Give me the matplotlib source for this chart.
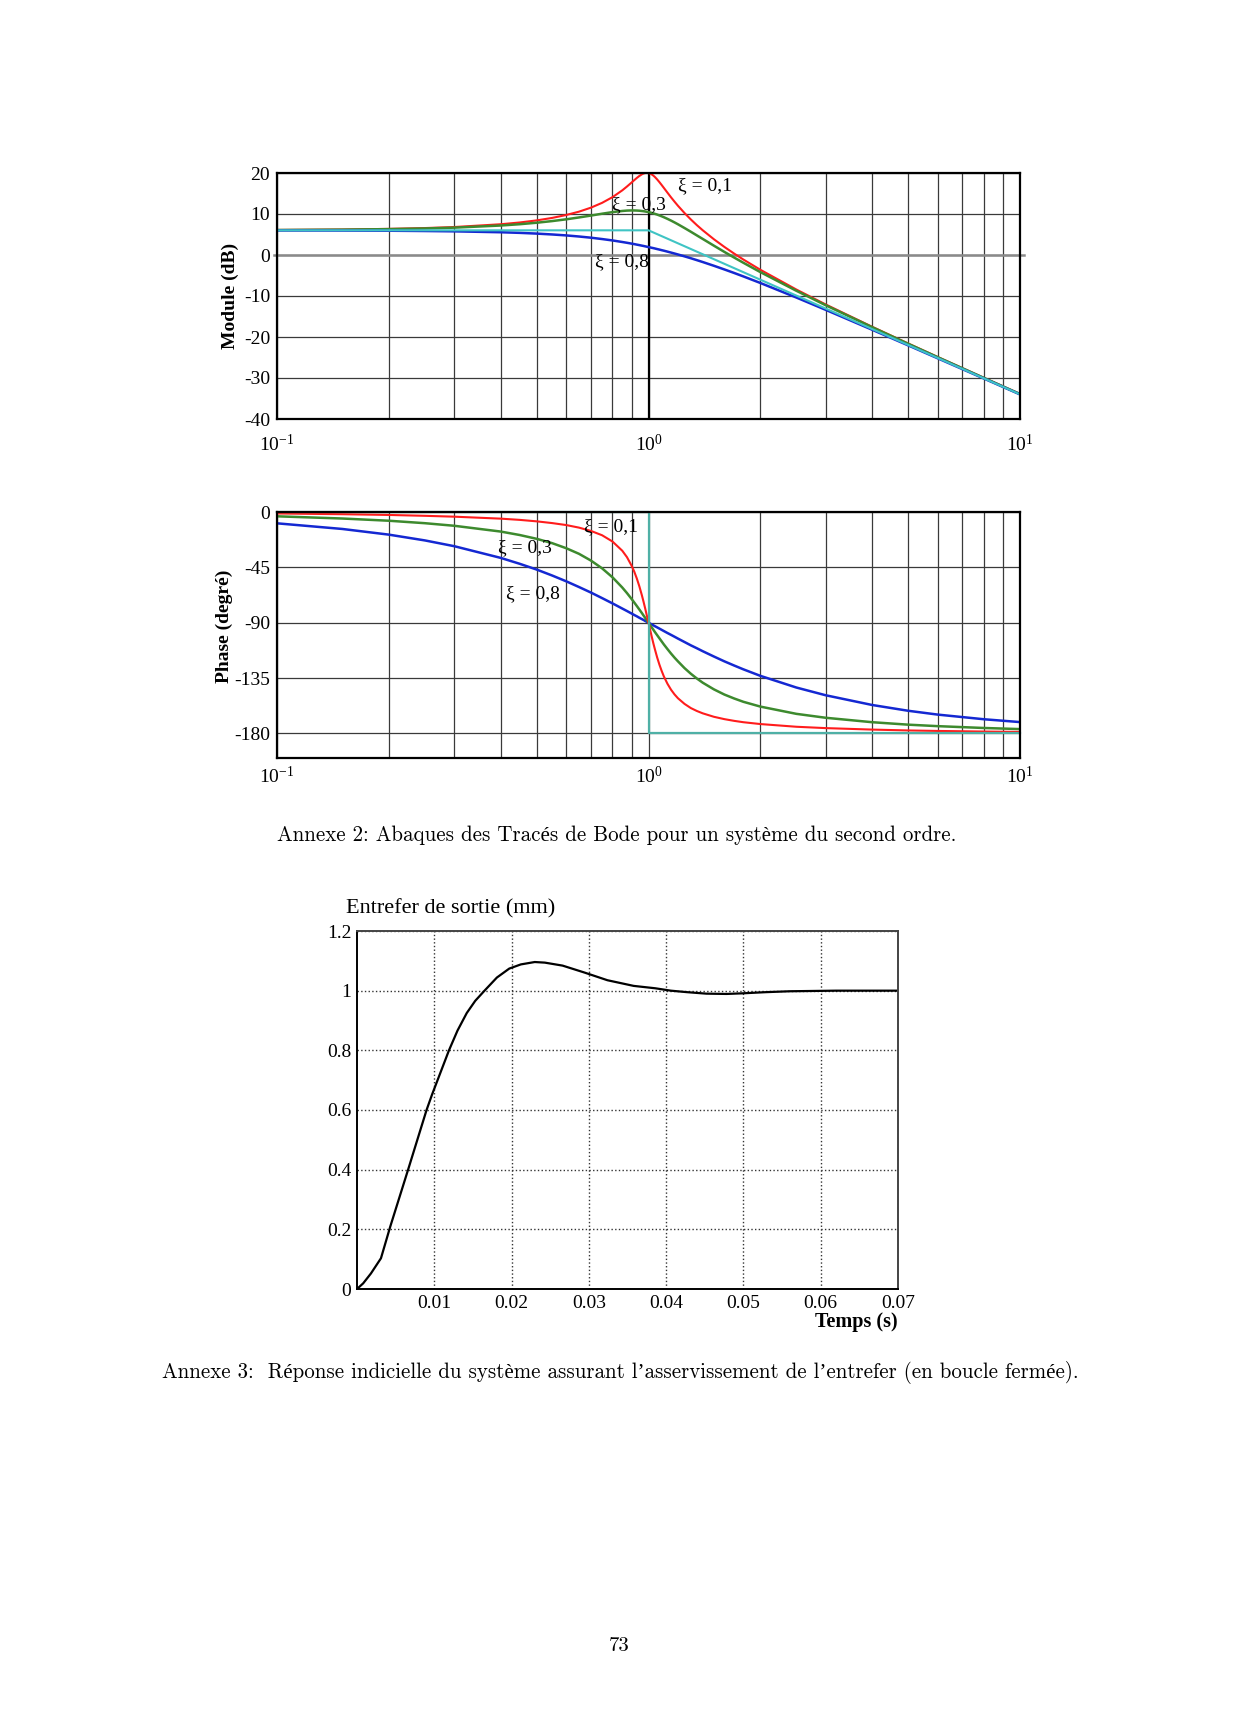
"""
Annexes 2 et 3 : Bode chart of a second order system (gain 2) and the
closed-loop step response of the air-gap control.
"""

import matplotlib
matplotlib.use("Agg")
import matplotlib.pyplot as plt
from matplotlib.ticker import FixedLocator, FixedFormatter, NullFormatter

plt.rcParams["font.family"] = ["Liberation Serif", "DejaVu Serif"]

# ---------------- data ----------------
# pulsation reduite (w / wn)
freq = [0.1, 0.15, 0.2, 0.25, 0.3, 0.4, 0.45, 0.5, 0.55, 0.6, 0.65, 0.7, 0.75, 0.8, 0.85, 0.875, 0.9, 0.915,
        0.93, 0.945, 0.96, 0.97, 0.98, 0.99, 1.0, 1.01, 1.02, 1.03, 1.04, 1.055, 1.07, 1.085, 1.1, 1.125, 1.15,
        1.175, 1.2, 1.25, 1.3, 1.35, 1.4, 1.5, 1.6, 1.7, 1.8, 2.0, 2.5, 3.0, 4.0, 5.0, 6.0, 8.0, 10.0]

# module (dB)
mod_01 = [6.11, 6.21, 6.37, 6.57, 6.82, 7.5, 7.93, 8.44, 9.04, 9.75, 10.57, 11.55, 12.72, 14.11, 15.77, 16.7,
          17.66, 18.24, 18.79, 19.28, 19.68, 19.88, 20.0, 20.04, 20.0, 19.87, 19.66, 19.38, 19.04, 18.44, 17.77,
          17.07, 16.36, 15.19, 14.06, 13.01, 12.02, 10.24, 8.67, 7.27, 6.02, 3.84, 1.98, 0.35, -1.1, -3.6,
          -8.42, -12.07, -17.51, -21.59, -24.87, -29.97, -33.89]
mod_03 = [6.09, 6.18, 6.31, 6.47, 6.67, 7.19, 7.51, 7.87, 8.27, 8.7, 9.16, 9.62, 10.07, 10.46, 10.74, 10.83,
          10.87, 10.86, 10.84, 10.8, 10.73, 10.68, 10.61, 10.54, 10.46, 10.37, 10.27, 10.16, 10.04, 9.86, 9.65,
          9.44, 9.21, 8.81, 8.39, 7.95, 7.5, 6.58, 5.67, 4.77, 3.91, 2.27, 0.76, -0.62, -1.89, -4.17, -8.72,
          -12.26, -17.61, -21.65, -24.91, -29.99, -33.91]
mod_08 = [6.0, 5.96, 5.92, 5.85, 5.77, 5.55, 5.4, 5.22, 5.01, 4.78, 4.51, 4.22, 3.89, 3.55, 3.17, 2.98, 2.78,
          2.66, 2.53, 2.41, 2.28, 2.2, 2.11, 2.02, 1.94, 1.85, 1.76, 1.68, 1.59, 1.45, 1.32, 1.18, 1.05, 0.82,
          0.59, 0.36, 0.13, -0.33, -0.79, -1.26, -1.72, -2.63, -3.52, -4.38, -5.22, -6.82, -10.37, -13.38,
          -18.23, -22.04, -25.18, -30.14, -34.0]

# phase (degre)
pha_01 = [-1.2, -1.8, -2.4, -3.1, -3.8, -5.4, -6.4, -7.6, -9.0, -10.6, -12.7, -15.4, -18.9, -24.0, -31.5, -36.7,
          -43.5, -48.3, -54.0, -60.5, -67.8, -73.1, -78.6, -84.3, -90.0, -95.7, -101.2, -106.5, -111.4, -118.2,
          -124.1, -129.2, -133.7, -139.7, -144.5, -148.3, -151.4, -156.0, -159.4, -161.8, -163.7, -166.5,
          -168.4, -169.8, -170.9, -172.4, -174.6, -175.7, -176.9, -177.6, -178.0, -178.5, -178.8]
pha_03 = [-3.5, -5.3, -7.1, -9.1, -11.2, -15.9, -18.7, -21.8, -25.3, -29.4, -34.0, -39.5, -45.8, -53.1, -61.4,
          -65.9, -70.6, -73.5, -76.4, -79.3, -82.2, -84.2, -86.1, -88.1, -90.0, -91.9, -93.8, -95.6, -97.5,
          -100.1, -102.7, -105.2, -107.7, -111.5, -115.1, -118.4, -121.4, -126.9, -131.5, -135.4, -138.8,
          -144.2, -148.4, -151.6, -154.3, -158.2, -164.1, -167.3, -170.9, -172.9, -174.1, -175.6, -176.5]
pha_08 = [-9.2, -13.8, -18.4, -23.1, -27.8, -37.3, -42.1, -46.8, -51.6, -56.3, -61.0, -65.5, -70.0, -74.3,
          -78.5, -80.5, -82.5, -83.7, -84.8, -86.0, -87.1, -87.8, -88.6, -89.3, -90.0, -90.7, -91.4, -92.1,
          -92.8, -93.8, -94.8, -95.8, -96.8, -98.4, -99.9, -101.4, -102.9, -105.7, -108.4, -110.8, -113.2,
          -117.5, -121.4, -124.8, -127.9, -133.2, -142.7, -149.0, -156.9, -161.6, -164.7, -168.5, -170.8]

# asymptotes
asym_freq = [0.1, 1.0, 10.0]
asym_mod = [6.02, 6.02, -33.98]
asym_pha_freq = [0.1, 1.0, 1.0, 10.0]
asym_pha = [0, 0, -180, -180]

# annexe 3 : reponse indicielle
temps = [0, 0.0008, 0.0018, 0.0031, 0.0043, 0.0066, 0.009, 0.0097, 0.0119, 0.013, 0.0142, 0.0153, 0.0165,
         0.0181, 0.0197, 0.0212, 0.023, 0.0243, 0.0266, 0.0294, 0.0324, 0.0358, 0.0386, 0.0406, 0.0427,
         0.0452, 0.0478, 0.0498, 0.0529, 0.056, 0.059, 0.062, 0.07]
entrefer = [0, 0.019, 0.052, 0.103, 0.209, 0.399, 0.6, 0.651, 0.8, 0.866, 0.925, 0.966, 1.0, 1.044, 1.074,
            1.088, 1.096, 1.094, 1.084, 1.061, 1.035, 1.016, 1.008, 1.0, 0.995, 0.99, 0.989, 0.991, 0.995,
            0.998, 0.999, 1.0, 1.0]

mod_ticks = [20, 10, 0, -10, -20, -30, -40]
pha_ticks = [0, -45, -90, -135, -180]
freq_labels = [r"$\mathregular{10^{-1}}$", r"$\mathregular{10^{0}}$", r"$\mathregular{10^{1}}$"]
t_ticks = [0.01, 0.02, 0.03, 0.04, 0.05, 0.06, 0.07]
e_ticks = [0, 0.2, 0.4, 0.6, 0.8, 1.0, 1.2]
e_labels = ["0", "0.2", "0.4", "0.6", "0.8", "1", "1.2"]

RED, GREEN, BLUE = "#ff1c1c", "#3d8a2e", "#1428d2"
W, H = 1240, 1713
CAPTION_FONT = ["cmr10", "Liberation Serif"]


def px_axes(x0, y0, x1, y1):
    # pixel box (top-left origin) -> figure fraction
    return fig.add_axes([x0 / W, 1 - y1 / H, (x1 - x0) / W, (y1 - y0) / H])


def bode_axes(ax, pad):
    ax.set_xscale("log")
    ax.set_xlim(0.1, 10)
    ax.xaxis.set_major_locator(FixedLocator([0.1, 1, 10]))
    ax.xaxis.set_major_formatter(FixedFormatter(freq_labels))
    ax.xaxis.set_minor_locator(FixedLocator([k * d for d in (0.1, 1) for k in range(2, 10)]))
    ax.xaxis.set_minor_formatter(NullFormatter())
    ax.grid(True, which="both", color="#3a3a3a", lw=0.9)
    ax.tick_params(which="both", length=0, labelsize=14)
    ax.tick_params(axis="x", pad=pad)
    ax.tick_params(axis="y", pad=5)
    for s in ax.spines.values():
        s.set_linewidth(1.6)
        s.set_zorder(5)


fig = plt.figure(figsize=(W / 100, H / 100), dpi=100)

# ---------------- module ----------------
ax1 = px_axes(277, 173, 1020, 419)
bode_axes(ax1, 11)
ax1.set_ylim(-40, 20)
ax1.yaxis.set_major_locator(FixedLocator(mod_ticks))
ax1.yaxis.set_major_formatter(FixedFormatter([str(v) for v in mod_ticks]))
ax1.plot([0.098, 10.25], [0, 0], color="#8a8a8a", lw=1.8, clip_on=False, zorder=2)
ax1.axvline(1, color="black", lw=1.6, zorder=2)
ax1.plot(freq, mod_01, color=RED, lw=1.5, zorder=3)
ax1.plot(freq, mod_03, color=GREEN, lw=1.8, zorder=3)
ax1.plot(freq, mod_08, color=BLUE, lw=1.8, zorder=3)
ax1.plot(asym_freq, asym_mod, color="#3fc4c4", lw=1.5, zorder=4)
ax1.set_ylabel("Module (dB)", fontsize=14, fontweight="bold")
ax1.yaxis.set_label_coords(-0.051, 0.5)
ax1.text(1.20, 17.0, "ξ = 0,1", fontsize=14, va="center")
ax1.text(0.798, 12.4, "ξ = 0,3", fontsize=14, va="center")
ax1.text(0.718, -1.7, "ξ = 0,8", fontsize=14, va="center")

# ---------------- phase ----------------
ax2 = px_axes(277, 512, 1020, 758)
bode_axes(ax2, 6)
ax2.set_ylim(-200, 0)
ax2.yaxis.set_major_locator(FixedLocator(pha_ticks))
ax2.yaxis.set_major_formatter(FixedFormatter([str(v) for v in pha_ticks]))
ax2.plot(freq, pha_08, color=BLUE, lw=1.8, zorder=3)
ax2.plot(freq, pha_03, color=GREEN, lw=1.8, zorder=3)
ax2.plot(freq, pha_01, color=RED, lw=1.5, zorder=3)
ax2.plot(asym_pha_freq, asym_pha, color="#4fb0a6", lw=1.6, zorder=4, clip_on=False)
ax2.set_ylabel("Phase (degré)", fontsize=14, fontweight="bold")
ax2.yaxis.set_label_coords(-0.059, 0.537)
ax2.text(0.671, -12.2, "ξ = 0,1", fontsize=14, va="center")
ax2.text(0.394, -29.3, "ξ = 0,3", fontsize=14, va="center")
ax2.text(0.4135, -66.7, "ξ = 0,8", fontsize=14, va="center")

fig.text(617 / W, 1 - 835 / H,
         "Annexe 2: Abaques des Tracés de Bode pour un système du second ordre.",
         ha="center", va="center", fontsize=15.05, family=CAPTION_FONT)

# ---------------- reponse indicielle ----------------
ax3 = px_axes(357, 931, 898, 1289)
ax3.plot(temps, entrefer, color="black", lw=1.6)
ax3.set_xlim(0, 0.07)
ax3.set_ylim(0, 1.2)
ax3.xaxis.set_major_locator(FixedLocator(t_ticks))
ax3.xaxis.set_major_formatter(FixedFormatter([f"{v:.2f}" for v in t_ticks]))
ax3.yaxis.set_major_locator(FixedLocator(e_ticks))
ax3.yaxis.set_major_formatter(FixedFormatter(e_labels))
ax3.grid(True, ls=":", color="#333333", lw=1.0)
ax3.tick_params(length=0, labelsize=14, pad=4)
for s in ax3.spines.values():
    s.set_linewidth(1.4)
ax3.spines[["top", "right"]].set_color("#444444")

fig.text(346 / W, 1 - 909 / H, "Entrefer de sortie (mm)", ha="left", va="center", fontsize=16)
fig.text(898 / W, 1 - 1322 / H, "Temps (s)", ha="right", va="center", fontsize=14.5, fontweight="bold")

fig.text(620 / W, 1 - 1373 / H,
         "Annexe 3:  Réponse indicielle du système assurant l’asservissement de l’entrefer (en boucle fermée).",
         ha="center", va="center", fontsize=15.05, family=CAPTION_FONT)

fig.text(619 / W, 1 - 1646 / H, "73", ha="center", va="center", fontsize=15, family=CAPTION_FONT)

fig.savefig("out.png", dpi=100, facecolor="white")
